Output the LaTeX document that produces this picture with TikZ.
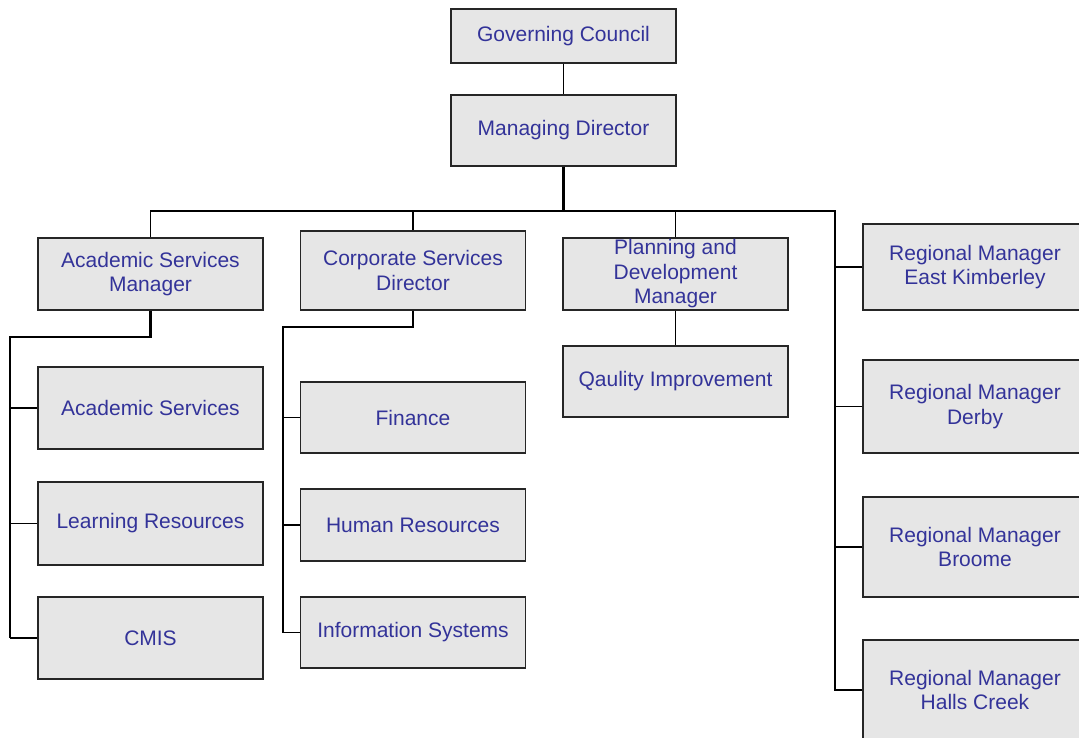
\documentclass[tikz,border=0pt]{standalone}
\usepackage{fontspec}
\setmainfont{Liberation Sans}
\definecolor{boxfill}{RGB}{230,230,230}
\definecolor{unittext}{RGB}{51,51,153}
\begin{document}
\begin{tikzpicture}[x=1pt,y=-1pt,
  unit/.style={draw=black!85, line width=1.3pt, fill=boxfill, text=unittext,
    align=center, minimum width=225pt, inner sep=0pt,
    font=\fontsize{21}{24.5}\selectfont},
  link/.style={line width=1.5pt},
  trunk/.style={line width=2.6pt}]
\useasboundingbox (0,0) rectangle (1079,738);

% top of the organisation
\node[unit, minimum height=54pt] (gc) at (563.5,36) {Governing Council};
\node[unit, minimum height=71pt] (md) at (563.5,130.5) {Managing Director};

% second level
\node[unit, minimum height=72pt] (asm) at (150.5,274) {Academic Services\\Manager};
\node[unit, minimum height=79pt] (csd) at (413,270.5) {Corporate Services\\Director};
\node[unit, minimum height=72pt] (pdm) at (675.5,274) {Planning and\\Development\\Manager};

% regional managers
\node[unit, minimum width=224pt, minimum height=86pt]  (rme) at (975,267)   {Regional Manager\\East Kimberley};
\node[unit, minimum width=224pt, minimum height=93pt]  (rmd) at (975,406.5) {Regional Manager\\Derby};
\node[unit, minimum width=224pt, minimum height=100pt] (rmb) at (975,547)   {Regional Manager\\Broome};
\node[unit, minimum width=224pt, minimum height=100pt] (rmh) at (975,690)   {Regional Manager\\Halls Creek};

% academic services units
\node[unit, minimum height=82pt] (acs)  at (150.5,408)   {Academic Services};
\node[unit, minimum height=83pt] (lr)   at (150.5,523.5) {Learning Resources};
\node[unit, minimum height=82pt] (cmis) at (150.5,638)   {CMIS};

% corporate services units
\node[unit, minimum height=71pt] (fin) at (413,417.5) {Finance};
\node[unit, minimum height=72pt] (hr)  at (413,525)   {Human Resources};
\node[unit, minimum height=71pt] (is)  at (413,632.5) {Information Systems};

% planning unit
\node[unit, minimum height=71pt] (qi) at (675.5,381.5) {Qaulity Improvement};

% bus and spine points
\coordinate (bus)  at (563.5,211);
\coordinate (busL) at (150.5,211);
\coordinate (busR) at (835,211);
\coordinate (lsp)  at (10,337);
\coordinate (csp)  at (283,327);

% connectors
\draw[link] (gc.south) -- (md.north);
\draw[trunk] (md.south) -- (bus);
\draw[link] (asm.north) -- (busL) -- (busR) |- (rmh.west);
\draw[link] (csd.north) -- (csd.north |- busL);
\draw[link] (pdm.north) -- (pdm.north |- busL);
\draw[link] (rme.west) -- (rme.west -| busR);
\draw[link] (rmd.west) -- (rmd.west -| busR);
\draw[link] (rmb.west) -- (rmb.west -| busR);

\draw[trunk] (asm.south) |- (lsp) -- (lsp |- cmis.west);
\draw[link] (acs.west) -- (acs.west -| lsp);
\draw[link] (lr.west) -- (lr.west -| lsp);
\draw[link] (cmis.west) -- (cmis.west -| lsp);

\draw[trunk] (csd.south) |- (csp) -- (csp |- is.west);
\draw[link] (fin.west) -- (fin.west -| csp);
\draw[link] (hr.west) -- (hr.west -| csp);
\draw[link] (is.west) -- (is.west -| csp);

\draw[link] (pdm.south) -- (qi.north);
\end{tikzpicture}
\end{document}
